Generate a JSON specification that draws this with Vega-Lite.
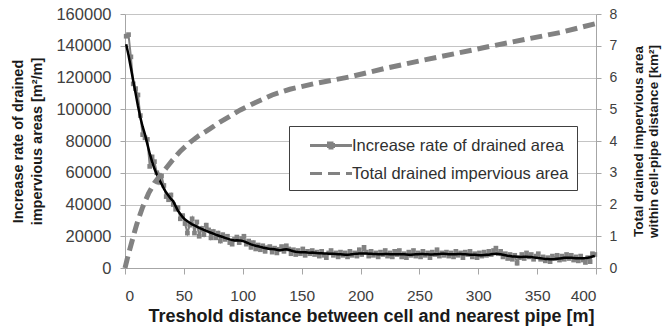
{
  "$schema": "https://vega.github.io/schema/vega-lite/v6.json",
  "width": 471,
  "height": 254,
  "autosize": {"type": "none"},
  "padding": {"left": 125, "top": 14, "right": 72, "bottom": 65},
  "background": "white",
  "config": {
    "font": "Liberation Sans",
    "view": {"stroke": null},
    "axis": {
      "labelFont": "Liberation Sans",
      "titleFont": "Liberation Sans",
      "labelFontSize": 15,
      "labelColor": "#404040",
      "titleColor": "#1a1a1a",
      "titleFontSize": 15,
      "titleFontWeight": "bold",
      "domainColor": "#a6a6a6",
      "tickColor": "#a6a6a6",
      "gridColor": "#c4c4c4",
      "labelOverlap": false,
      "labelSeparation": 0
    },
    "axisY": {"labelOverlap": false},
    "axisLeft": {"labelOverlap": false},
    "axisQuantitative": {"labelOverlap": false}
  },
  "datasets": {
    "rate": [
      {"x":1,"rate":146000,"trend":141000},{"x":3,"rate":147000,"trend":134000},{"x":5,"rate":133000,"trend":126000},{"x":7,"rate":116000,"trend":118000},{"x":9,"rate":113000,"trend":110000},
      {"x":11,"rate":109000,"trend":102000},{"x":13,"rate":96000,"trend":95000},{"x":15,"rate":84000,"trend":89000},{"x":17,"rate":82000,"trend":84000},{"x":19,"rate":81000,"trend":78000},
      {"x":21,"rate":64000,"trend":72000},{"x":23,"rate":70000,"trend":67000},{"x":25,"rate":67000,"trend":62500},{"x":27,"rate":60000,"trend":59000},{"x":29,"rate":54000,"trend":56000},
      {"x":31,"rate":58000,"trend":53000},{"x":33,"rate":52000,"trend":50000},{"x":35,"rate":45000,"trend":47500},{"x":37,"rate":43000,"trend":45500},{"x":39,"rate":46000,"trend":43500},
      {"x":41,"rate":40000,"trend":42000},{"x":43,"rate":37000,"trend":39000},{"x":45,"rate":38000,"trend":36000},{"x":47,"rate":31000,"trend":34000},{"x":49,"rate":33000,"trend":32000},
      {"x":51,"rate":28000,"trend":30500},{"x":53,"rate":22000,"trend":29500},{"x":55,"rate":27000,"trend":28500},{"x":57,"rate":31000,"trend":27500},{"x":59,"rate":22000,"trend":26800},
      {"x":61,"rate":29000,"trend":26000},{"x":63,"rate":20000,"trend":25300},{"x":65,"rate":25000,"trend":24700},{"x":67,"rate":21000,"trend":24000},{"x":69,"rate":27000,"trend":23400},
      {"x":71,"rate":24000,"trend":22800},{"x":73,"rate":19000,"trend":22200},{"x":75,"rate":23000,"trend":21600},{"x":77,"rate":19000,"trend":21000},{"x":79,"rate":22000,"trend":20500},
      {"x":81,"rate":17000,"trend":20000},{"x":83,"rate":21000,"trend":19500},{"x":85,"rate":18000,"trend":19000},{"x":87,"rate":20000,"trend":18500},{"x":89,"rate":16000,"trend":18000},
      {"x":91,"rate":15000,"trend":17600},{"x":93,"rate":18000,"trend":17400},{"x":95,"rate":19500,"trend":17500},{"x":97,"rate":16000,"trend":17400},{"x":99,"rate":18500,"trend":17200},
      {"x":101,"rate":20000,"trend":16800},{"x":103,"rate":15000,"trend":16200},{"x":105,"rate":17000,"trend":15500},{"x":107,"rate":13000,"trend":14900},{"x":109,"rate":16000,"trend":14400},
      {"x":111,"rate":12000,"trend":14000},{"x":113,"rate":14500,"trend":13700},{"x":115,"rate":11500,"trend":13300},{"x":117,"rate":14000,"trend":12900},{"x":119,"rate":10500,"trend":12600},
      {"x":121,"rate":12800,"trend":12300},{"x":123,"rate":13500,"trend":12000},{"x":125,"rate":10000,"trend":11900},{"x":127,"rate":12500,"trend":11800},{"x":129,"rate":9500,"trend":11500},
      {"x":131,"rate":11800,"trend":11200},{"x":133,"rate":13500,"trend":11300},{"x":135,"rate":10500,"trend":11700},{"x":137,"rate":14000,"trend":11800},{"x":139,"rate":12000,"trend":11500},
      {"x":141,"rate":9000,"trend":11000},{"x":143,"rate":11500,"trend":10600},{"x":145,"rate":8500,"trend":10300},{"x":147,"rate":11000,"trend":10100},{"x":149,"rate":9000,"trend":10000},
      {"x":151,"rate":12000,"trend":10000},{"x":153,"rate":8000,"trend":9900},{"x":155,"rate":10500,"trend":9700},{"x":157,"rate":9000,"trend":9600},{"x":159,"rate":11000,"trend":9700},
      {"x":161,"rate":8500,"trend":9600},{"x":163,"rate":10000,"trend":9400},{"x":165,"rate":7500,"trend":9300},{"x":167,"rate":10500,"trend":9300},{"x":169,"rate":8000,"trend":9200},
      {"x":171,"rate":6500,"trend":9100},{"x":173,"rate":9500,"trend":9000},{"x":175,"rate":11000,"trend":9000},{"x":177,"rate":8000,"trend":8900},{"x":179,"rate":9500,"trend":8800},
      {"x":181,"rate":7000,"trend":8700},{"x":183,"rate":10000,"trend":8600},{"x":185,"rate":8000,"trend":8500},{"x":187,"rate":9500,"trend":8400},{"x":189,"rate":7000,"trend":8400},
      {"x":191,"rate":10500,"trend":8500},{"x":193,"rate":8000,"trend":8700},{"x":195,"rate":9500,"trend":8900},{"x":197,"rate":7500,"trend":9000},{"x":199,"rate":11500,"trend":9100},
      {"x":201,"rate":8500,"trend":9200},{"x":203,"rate":13000,"trend":9200},{"x":205,"rate":10000,"trend":9100},{"x":207,"rate":7500,"trend":9000},{"x":209,"rate":10500,"trend":8900},
      {"x":211,"rate":8000,"trend":8800},{"x":213,"rate":9500,"trend":8800},{"x":215,"rate":7000,"trend":8700},{"x":217,"rate":10000,"trend":8700},{"x":219,"rate":8500,"trend":8700},
      {"x":221,"rate":11000,"trend":8800},{"x":223,"rate":7500,"trend":8800},{"x":225,"rate":9500,"trend":8700},{"x":227,"rate":7000,"trend":8600},{"x":229,"rate":10500,"trend":8600},
      {"x":231,"rate":8500,"trend":8600},{"x":233,"rate":11000,"trend":8700},{"x":235,"rate":7000,"trend":8700},{"x":237,"rate":9000,"trend":8600},{"x":239,"rate":6500,"trend":8500},
      {"x":241,"rate":10000,"trend":8400},{"x":243,"rate":8000,"trend":8400},{"x":245,"rate":11000,"trend":8500},{"x":247,"rate":7500,"trend":8600},{"x":249,"rate":9500,"trend":8700},
      {"x":251,"rate":7000,"trend":8800},{"x":253,"rate":10500,"trend":8800},{"x":255,"rate":8000,"trend":8700},{"x":257,"rate":9500,"trend":8600},{"x":259,"rate":6500,"trend":8500},
      {"x":261,"rate":10000,"trend":8500},{"x":263,"rate":8500,"trend":8600},{"x":265,"rate":11500,"trend":8700},{"x":267,"rate":7500,"trend":8800},{"x":269,"rate":9500,"trend":8900},
      {"x":271,"rate":8000,"trend":8900},{"x":273,"rate":10000,"trend":8800},{"x":275,"rate":7500,"trend":8700},{"x":277,"rate":9500,"trend":8600},{"x":279,"rate":7000,"trend":8600},
      {"x":281,"rate":10500,"trend":8700},{"x":283,"rate":8000,"trend":8800},{"x":285,"rate":9500,"trend":8800},{"x":287,"rate":6500,"trend":8700},{"x":289,"rate":10000,"trend":8600},
      {"x":291,"rate":8500,"trend":8500},{"x":293,"rate":10500,"trend":8400},{"x":295,"rate":7000,"trend":8300},{"x":297,"rate":9000,"trend":8300},{"x":299,"rate":6500,"trend":8200},
      {"x":301,"rate":9500,"trend":8100},{"x":303,"rate":7500,"trend":8100},{"x":305,"rate":10000,"trend":8200},{"x":307,"rate":8000,"trend":8300},{"x":309,"rate":10500,"trend":8400},
      {"x":311,"rate":8500,"trend":8600},{"x":313,"rate":11000,"trend":8800},{"x":315,"rate":12500,"trend":9000},{"x":317,"rate":9000,"trend":8900},{"x":319,"rate":10500,"trend":8600},
      {"x":321,"rate":7000,"trend":8300},{"x":323,"rate":9000,"trend":8000},{"x":325,"rate":6000,"trend":7700},{"x":327,"rate":8500,"trend":7500},{"x":329,"rate":5500,"trend":7300},
      {"x":331,"rate":8000,"trend":7200},{"x":333,"rate":3000,"trend":7100},{"x":335,"rate":6500,"trend":7000},{"x":337,"rate":8500,"trend":7000},{"x":339,"rate":6000,"trend":7100},
      {"x":341,"rate":9500,"trend":7100},{"x":343,"rate":7000,"trend":7000},{"x":345,"rate":8500,"trend":6900},{"x":347,"rate":5500,"trend":6700},{"x":349,"rate":7500,"trend":6500},
      {"x":351,"rate":9000,"trend":6300},{"x":353,"rate":5500,"trend":6100},{"x":355,"rate":7000,"trend":5900},{"x":357,"rate":4500,"trend":5700},{"x":359,"rate":6500,"trend":5600},
      {"x":361,"rate":4000,"trend":5500},{"x":363,"rate":7500,"trend":5500},{"x":365,"rate":6000,"trend":5600},{"x":367,"rate":8000,"trend":5800},{"x":369,"rate":5000,"trend":6000},
      {"x":371,"rate":7500,"trend":6200},{"x":373,"rate":5500,"trend":6400},{"x":375,"rate":8500,"trend":6500},{"x":377,"rate":6000,"trend":6500},{"x":379,"rate":8000,"trend":6400},
      {"x":381,"rate":5000,"trend":6300},{"x":383,"rate":7000,"trend":6200},{"x":385,"rate":4500,"trend":6100},{"x":387,"rate":7500,"trend":6100},{"x":389,"rate":5000,"trend":6200},
      {"x":391,"rate":3500,"trend":6300},{"x":393,"rate":6500,"trend":6500},{"x":395,"rate":4000,"trend":6800},{"x":397,"rate":9000,"trend":7200},{"x":399,"rate":8500,"trend":7600}
    ],
    "total": [
      {"x":0,"total":0},{"x":2,"total":0.3},{"x":4,"total":0.58},{"x":6,"total":0.85},{"x":8,"total":1.12},{"x":10,"total":1.38},
      {"x":12,"total":1.6},{"x":15,"total":1.92},{"x":20,"total":2.35},{"x":25,"total":2.68},{"x":30,"total":2.92},{"x":35,"total":3.15},
      {"x":40,"total":3.38},{"x":47,"total":3.68},{"x":55,"total":3.95},{"x":62,"total":4.15},{"x":72,"total":4.38},{"x":80,"total":4.58},
      {"x":90,"total":4.8},{"x":98,"total":4.98},{"x":110,"total":5.2},{"x":125,"total":5.45},{"x":140,"total":5.63},{"x":160,"total":5.8},
      {"x":191,"total":6.02},{"x":220,"total":6.28},{"x":250,"total":6.52},{"x":280,"total":6.75},{"x":310,"total":6.98},{"x":340,"total":7.2},
      {"x":370,"total":7.42},{"x":400,"total":7.7}
    ]
  },
  "encoding": {
    "x": {
      "field": "x",
      "type": "quantitative",
      "scale": {"domain": [0, 400], "nice": false, "zero": false},
      "axis": {
        "values": [0, 50, 100, 150, 200, 250, 300, 350, 400],
        "grid": false,
        "tickSize": 6,
        "labelPadding": 14,
        "labelFontSize": 15.5,
        "title": "Treshold distance between cell and nearest pipe [m]",
        "titleFontSize": 18,
        "titlePadding": 4,
        "titleX": 246
      }
    }
  },
  "layer": [
    {
      "data": {"name": "rate"},
      "layer": [
        {
          "mark": {"type": "line", "strokeWidth": 2, "point": {"shape": "square", "size": 22, "filled": true, "opacity": 1}},
          "encoding": {
            "y": {
              "field": "rate",
              "type": "quantitative",
              "scale": {"domain": [0, 160000], "nice": false},
              "axis": {
                "values": [0, 20000, 40000, 60000, 80000, 100000, 120000, 140000, 160000],
                "labelExpr": "replace(datum.label, ',', '')",
                "grid": true,
                "tickSize": 5,
                "labelPadding": 9,
                "labelFontSize": 16.5,
                "labelOverlap": false,
                "labelBound": false,
                "title": ["Increase rate of drained", "impervious areas [m²/m]"],
                "titleFontSize": 14.5,
                "titleLineHeight": 19,
                "titlePadding": 11
              }
            },
            "color": {
              "datum": "Increase rate of drained area",
              "type": "nominal",
              "scale": {"domain": ["Increase rate of drained area", "Total drained impervious area"], "range": ["#828282", "#828282"]},
              "legend": {
                "orient": "none",
                "legendX": 164,
                "legendY": 112,
                "title": null,
                "strokeColor": "#404040",
                "fillColor": "white",
                "padding": 8,
                "labelFont": "Liberation Sans",
                "labelFontSize": 16.5,
                "labelColor": "#303030",
                "labelLimit": 400,
                "symbolType": "M-2.1,0H2.1",
                "symbolSize": 400,
                "symbolStrokeWidth": 3,
                "symbolOffset": 22.5,
                "rowPadding": 8,
                "labelOffset": 9.5,
                "encode": {
                  "symbols": {
                    "update": {
                      "shape": {"signal": "datum.value === 'Increase rate of drained area' ? 'M-2.1,0H2.1M-0.25,-0.25H0.25V0.25H-0.25Z' : 'M-2.1,0H2.1'"}
                    }
                  }
                }
              }
            },
            "strokeDash": {
              "datum": "Increase rate of drained area",
              "type": "nominal",
              "scale": {"domain": ["Increase rate of drained area", "Total drained impervious area"], "range": [[1, 0], [12, 6]]}
            }
          }
        },
        {
          "mark": {"type": "line", "color": "black", "strokeWidth": 2.5},
          "encoding": {
            "y": {
              "field": "trend",
              "type": "quantitative",
              "axis": {
                "values": [0, 20000, 40000, 60000, 80000, 100000, 120000, 140000, 160000],
                "labelExpr": "replace(datum.label, ',', '')",
                "grid": true,
                "tickSize": 5,
                "labelPadding": 9,
                "labelFontSize": 16.5,
                "labelOverlap": false,
                "labelBound": false,
                "title": ["Increase rate of drained", "impervious areas [m²/m]"],
                "titleFontSize": 14.5,
                "titleLineHeight": 19,
                "titlePadding": 11
              }
            }
          }
        }
      ]
    },
    {
      "data": {"name": "total"},
      "mark": {"type": "line", "strokeWidth": 5},
      "encoding": {
        "y": {
          "field": "total",
          "type": "quantitative",
          "scale": {"domain": [0, 8], "nice": false},
          "axis": {
            "orient": "right",
            "values": [0, 1, 2, 3, 4, 5, 6, 7, 8],
            "grid": false,
            "tickSize": 5,
            "labelPadding": 8,
            "labelFontSize": 14,
            "labelOverlap": false,
            "title": ["Total drained impervious area", "within cell-pipe distance [km²]"],
            "titleAngle": -90,
            "titleFontSize": 13.5,
            "titleLineHeight": 15,
            "titlePadding": 14
          }
        },
        "color": {"datum": "Total drained impervious area", "type": "nominal"},
        "strokeDash": {"datum": "Total drained impervious area", "type": "nominal"}
      }
    }
  ],
  "resolve": {"scale": {"y": "independent"}}
}
